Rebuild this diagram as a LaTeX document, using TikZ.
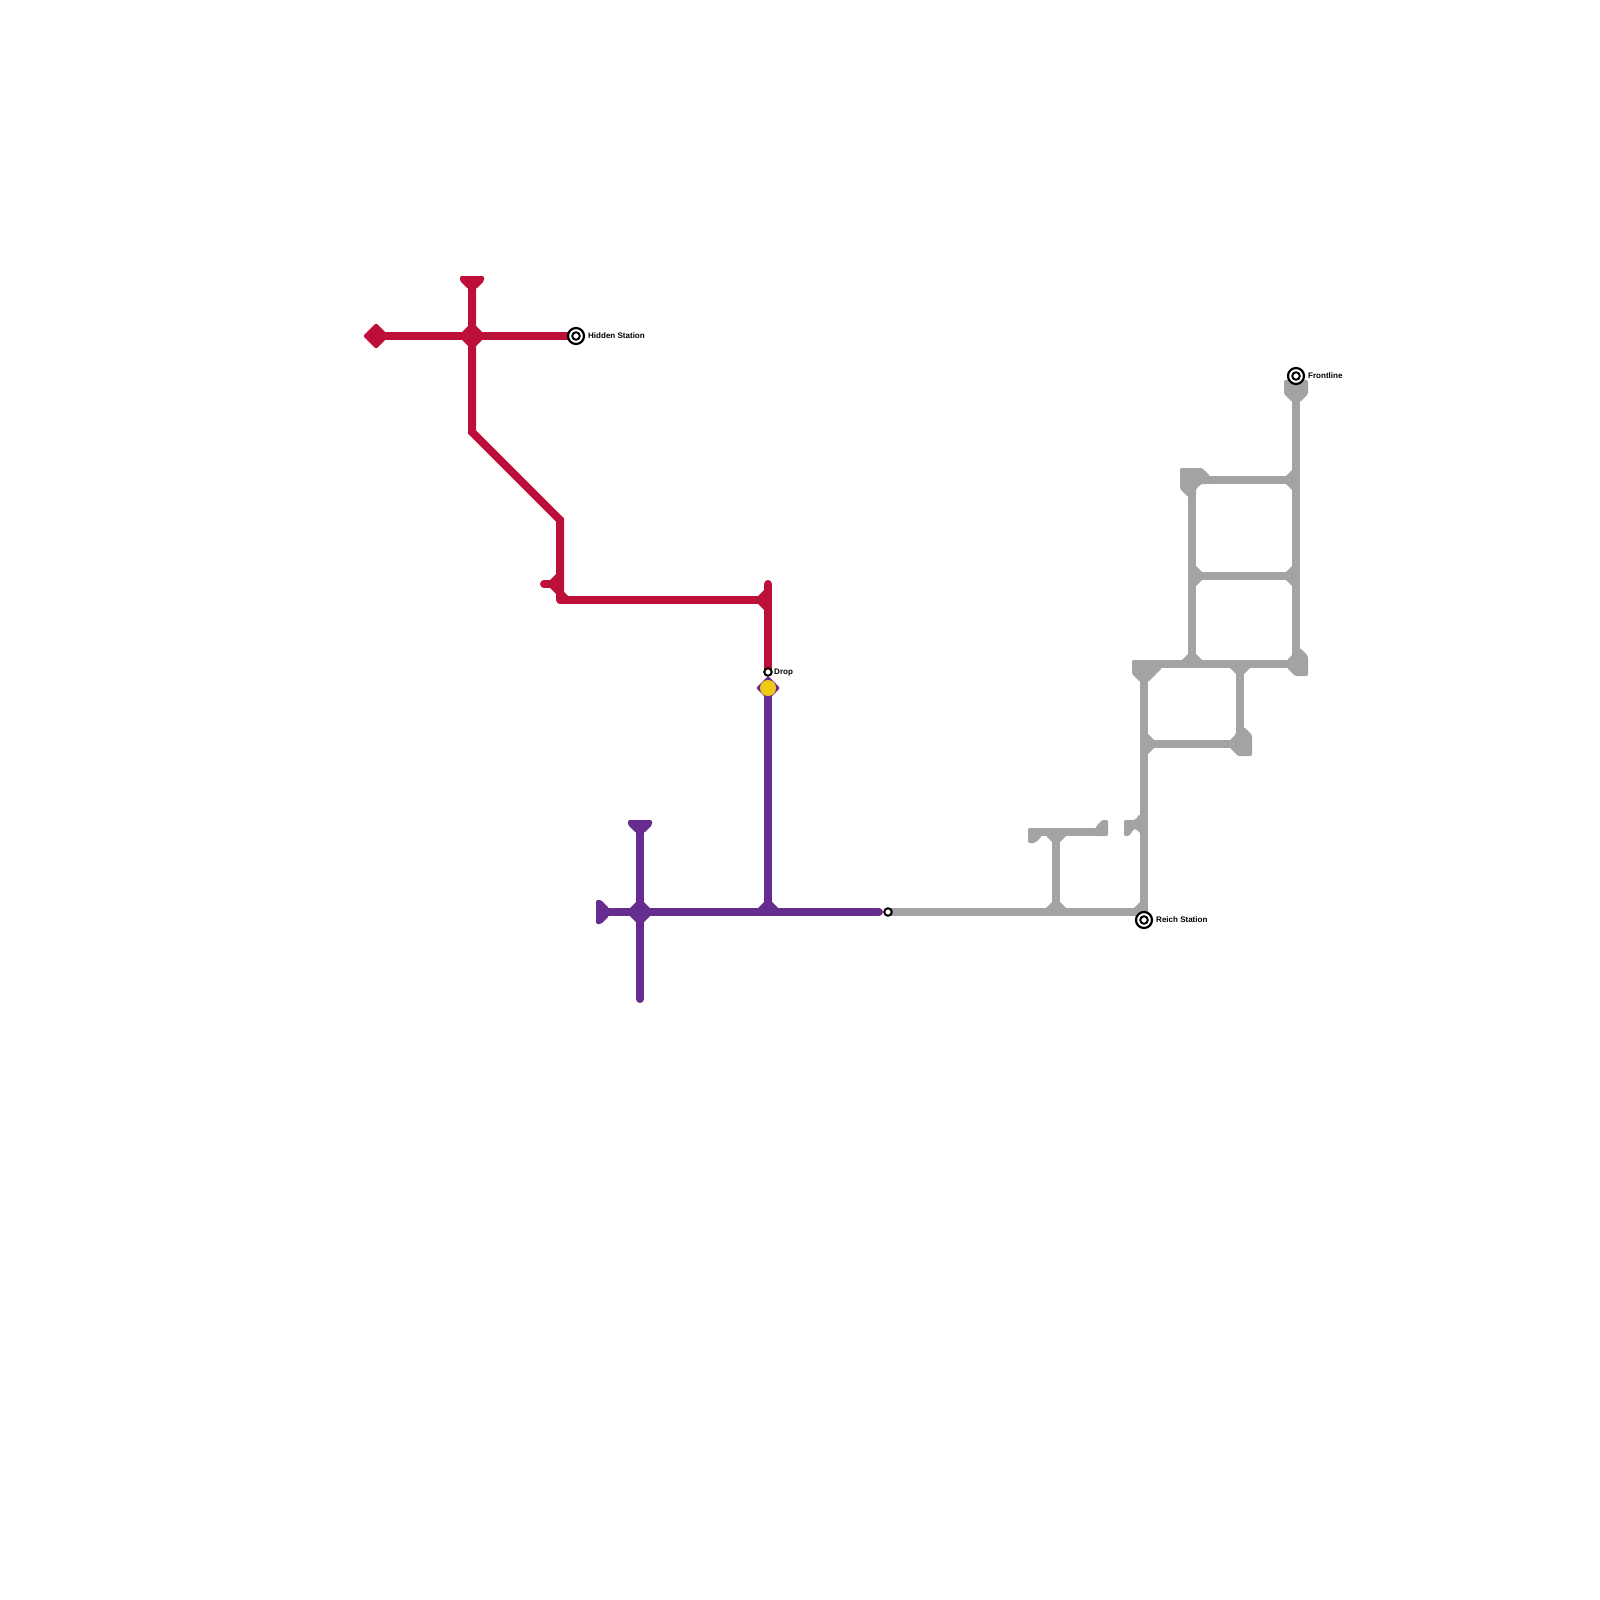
\documentclass[tikz,border=0pt]{standalone}
\usepackage{fontspec}
\setmainfont{Liberation Sans}
\usetikzlibrary{backgrounds}
\definecolor{redline}{HTML}{BD1038}
\definecolor{purpleline}{HTML}{662C90}
\definecolor{grayline}{HTML}{A3A3A3}
\definecolor{dropyellow}{HTML}{F1C812}
\tikzset{
	redtrack/.style={draw=redline,line width=0.08cm,line cap=round},
	purpletrack/.style={draw=purpleline,line width=0.08cm,line cap=round},
	graytrack/.style={draw=grayline,line width=0.08cm},
	redblob/.style={fill=redline,rounded corners=0.4pt},
	purpleblob/.style={fill=purpleline,rounded corners=0.4pt},
	grayblob/.style={fill=grayline,rounded corners=0.4pt},
	terminal/.style={circle,draw=black,fill=white,line width=0.022cm,inner sep=0pt,minimum size=0.16cm},
	halt/.style={circle,draw=black,fill=white,line width=0.02cm,inner sep=0pt,minimum size=0.075cm},
	stationlabel/.style={anchor=west,inner sep=0pt,font=\fontsize{2.28}{3}\selectfont\bfseries},
}
\begin{document}
\begin{tikzpicture}[x=0.01cm,y=-0.01cm]
	\useasboundingbox (0,0) rectangle (1600,1600);

	% red line
	\coordinate (redW) at (376,336);
	\coordinate (redN) at (472,284);
	\coordinate (redBendA) at (472,432);
	\coordinate (redBendB) at (560,520);
	\coordinate (redBendC) at (560,600);
	\coordinate (redStub) at (544,584);
	\coordinate (redStubEnd) at (560,584);
	\coordinate (redE) at (768,600);
	\coordinate (redTop) at (768,584);

	% purple line
	\coordinate (purpleW) at (604,912);
	\coordinate (purpleN) at (640,826);
	\coordinate (purpleS) at (640,999);
	\coordinate (purpleT) at (768,912);
	\coordinate (purpleE) at (879,912);
	\coordinate (purpleTop) at (768,688);

	% gray line
	\coordinate (grayA) at (1056,912);
	\coordinate (grayB) at (1144,912);
	\coordinate (grayC) at (1056,832);
	\coordinate (grayCW) at (1034,832);
	\coordinate (grayCE) at (1102,832);
	\coordinate (grayD) at (1144,744);
	\coordinate (grayE) at (1144,664);
	\coordinate (grayF) at (1240,744);
	\coordinate (grayG) at (1240,664);
	\coordinate (grayH) at (1192,664);
	\coordinate (grayI) at (1296,664);
	\coordinate (grayJ) at (1192,576);
	\coordinate (grayK) at (1296,576);
	\coordinate (grayL) at (1192,480);
	\coordinate (grayM) at (1296,480);
	\coordinate (grayN) at (1296,390);

	\node[terminal] (hidden) at (576,336) {};
	\node[halt] (hiddenin) at (hidden) {};
	\node[halt] (drop) at (768,672) {};
	\node[halt] (border) at (888,912) {};
	\node[terminal] (reich) at (1144,920) {};
	\node[halt] (reichin) at (reich) {};
	\node[terminal] (frontline) at (1296,376) {};
	\node[halt] (frontlinein) at (frontline) {};

	\node[stationlabel] (hiddentext) at (587.5,336) {Hidden Station};
	\node[stationlabel] (droptext) at (773.5,672.5) {Drop};
	\node[stationlabel] (reichtext) at (1155.5,920) {Reich Station};
	\node[stationlabel] (frontlinetext) at (1307.5,376) {Frontline};

	\begin{scope}[on background layer]
		\draw[redtrack] (redW) -- (hidden.center);
		\draw[redtrack,line cap=butt] (redN) -- (redBendA) -- (redBendB) -- (redBendC);
		\draw[redtrack,line cap=butt,line join=round] (redBendB) -- (redBendC) -- (redE);
		\draw[redtrack] (redStub) -- (redStubEnd);
		\draw[redtrack] (redTop) -- (drop.center);

		\fill[redblob] (460,276) -- (484,276) -- (484,281) -- (476,289) -- (468,289) -- (460,281) -- cycle;
		\fill[redblob] (376,323) -- (389,336) -- (376,349) -- (363,336) -- cycle;
		\fill[redline] (472,322) -- (486,336) -- (472,350) -- (458,336) -- cycle;
		\fill[redline] (556,574) -- (546,584) -- (557,595) -- cycle;
		\fill[redline] (564,592) -- (568,596) -- (564,596) -- cycle;
		\fill[redline] (768,586) -- (754,600) -- (768,614) -- cycle;

		\draw[purpletrack] (purpleN) -- (purpleS);
		\draw[purpletrack] (purpleW) -- (purpleE);
		\draw[purpletrack,line cap=butt] (purpleTop) -- (purpleT);

		\fill[purpleblob] (628,820) -- (652,820) -- (652,825) -- (644,833) -- (636,833) -- (628,825) -- cycle;
		\fill[purpleblob] (596,900) -- (601,900) -- (609,908) -- (609,916) -- (601,924) -- (596,924) -- cycle;
		\fill[purpleline] (640,898) -- (654,912) -- (640,926) -- (626,912) -- cycle;
		\fill[purpleline] (754,912) -- (768,898) -- (782,912) -- cycle;
		\fill[purpleblob] (768,676) -- (780,688) -- (768,700) -- (756,688) -- cycle;
		\fill[dropyellow] (768,688) circle (8);

		\draw[graytrack] (border.center) -- (grayA) -- (grayB) -- (grayD) -- (grayE) -- (grayH) -- (grayG) -- (grayI);
		\draw[graytrack] (grayA) -- (grayC);
		\draw[graytrack] (grayCW) -- (grayC) -- (grayCE);
		\draw[graytrack] (grayD) -- (grayF);
		\draw[graytrack] (grayG) -- (grayF);
		\draw[graytrack] (grayH) -- (grayJ) -- (grayL) -- (grayM);
		\draw[graytrack] (grayJ) -- (grayK);
		\draw[graytrack] (grayN) -- (grayM) -- (grayK) -- (grayI);

		\fill[grayline] (1042,912) -- (1056,898) -- (1070,912) -- cycle;
		\fill[grayline] (1130,912) -- (1144,898) -- (1144,912) -- cycle;
		\fill[grayline] (1042,832) -- (1070,832) -- (1056,846) -- cycle;
		\fill[grayline] (1144,730) -- (1158,744) -- (1144,758) -- cycle;
		\fill[grayline] (1178,664) -- (1192,650) -- (1206,664) -- cycle;
		\fill[grayline] (1226,664) -- (1254,664) -- (1240,678) -- cycle;
		\fill[grayline] (1192,562) -- (1206,576) -- (1192,590) -- cycle;
		\fill[grayline] (1296,562) -- (1282,576) -- (1296,590) -- cycle;
		\fill[grayline] (1296,466) -- (1282,480) -- (1296,494) -- cycle;

		\fill[grayblob] (1132,660) -- (1150,660) -- (1162,668) -- (1148,682) -- (1140,682) -- (1132,674) -- cycle;
		\fill[grayblob] (1284,380) -- (1308,380) -- (1308,394) -- (1300,402) -- (1292,402) -- (1284,394) -- cycle;
		\fill[grayblob] (1180,468) -- (1202,468) -- (1210,476) -- (1210,484) -- (1201,484) -- (1196,489) -- (1196,497) -- (1188,497) -- (1180,489) -- cycle;
		\fill[grayblob] (1300,648) -- (1308,656) -- (1308,676) -- (1295,676) -- (1287,668) -- (1287,660) -- (1292,655) -- cycle;
		\fill[grayblob] (1244,727) -- (1252,735) -- (1252,756) -- (1238,756) -- (1230,748) -- (1230,740) -- (1236,734) -- (1236,727) -- cycle;
		\fill[grayblob] (1124,820) -- (1135,820) -- (1140,814) -- (1144,814) -- (1144,837) -- (1136,829) -- (1134,829) -- (1129,836) -- (1124,836) -- cycle;
		\fill[grayblob] (1028,828) -- (1040,828) -- (1042,836) -- (1035,843) -- (1028,843) -- cycle;
		\fill[grayblob] (1095,828) -- (1102,820) -- (1108,820) -- (1108,836) -- (1095,836) -- cycle;
	\end{scope}
\end{tikzpicture}
\end{document}
